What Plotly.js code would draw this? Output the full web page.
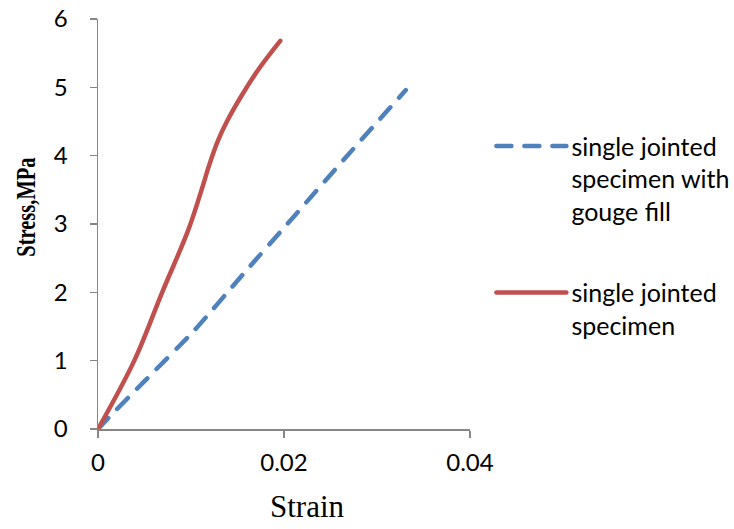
<!DOCTYPE html>
<html>
<head>
<meta charset="utf-8">
<script src="https://cdn.plot.ly/plotly-3.0.1.min.js"></script>
<style>
html,body{margin:0;padding:0;background:#fff;}
#chart{width:734px;height:529px;}
.scatterlayer path.js-line, .legend path.js-line {stroke-linecap: round;}
</style>
</head>
<body>
<div id="chart"></div>
<script>
// Data
const gougeStrain = [0, 0.0011, 0.0050, 0.0104, 0.0155, 0.0210, 0.0268, 0.0331];
const gougeStress = [0, 0.16, 0.70, 1.45, 2.25, 3.10, 4.00, 4.96];

const jointStrain = [0, 0.0039, 0.0069, 0.0097, 0.0110, 0.0120, 0.0129, 0.0139, 0.01545, 0.0174, 0.0196];
const jointStress = [0, 1.0, 2.0, 2.91, 3.44, 3.88, 4.22, 4.51, 4.88, 5.29, 5.68];

const seriesNames = ['single jointed<br>specimen with<br>gouge fill', 'single jointed<br>specimen'];
const xTicks = [0, 0.02, 0.04];
const xTickLabels = ['0', '0.02', '0.04'];
const yTicks = [0, 1, 2, 3, 4, 5, 6];

const tickFont = {family: 'Lato, "Open Sans", sans-serif', size: 24, color: '#000'};

const traces = [
  {
    x: gougeStrain, y: gougeStress, name: seriesNames[0], mode: 'lines', legendgroup: 'g1',
    line: {color: '#4F81BD', width: 4.5, dash: '15px,13px', shape: 'spline', smoothing: 0.6}
  },
  {
    x: jointStrain, y: jointStress, name: seriesNames[1], mode: 'lines', legendgroup: 'g2',
    line: {color: '#C0504D', width: 4.5, shape: 'spline', smoothing: 1.0}
  }
];

const axisCommon = {
  showgrid: false, zeroline: false, showline: true, linecolor: '#868686', linewidth: 1.5,
  ticks: 'outside', ticklen: 7, tickcolor: '#868686', tickwidth: 1.5, tickfont: tickFont,
  automargin: false
};

const layout = {
  width: 734, height: 529,
  margin: {l: 98, r: 264, t: 19, b: 100, pad: 0, autoexpand: false},
  paper_bgcolor: '#fff', plot_bgcolor: '#fff',
  showlegend: true,
  xaxis: Object.assign({}, axisCommon, {
    range: [0, 0.04], tickvals: xTicks, ticktext: xTickLabels, ticklabelstandoff: 5
  }),
  yaxis: Object.assign({}, axisCommon, {
    range: [0, 6], tickvals: yTicks, ticklabelstandoff: 17
  }),
  legend: {
    x: 1.0575, y: 0.746, xanchor: 'left', yanchor: 'top',
    font: {family: 'Lato, "Open Sans", sans-serif', size: 25, color: '#000'},
    valign: 'top', itemwidth: 70, tracegroupgap: 46, bgcolor: 'rgba(0,0,0,0)'
  },
  annotations: [
    {text: 'Strain', xref: 'paper', yref: 'paper', x: 0.5645, y: -0.19,
     xanchor: 'center', yanchor: 'middle', showarrow: false,
     font: {family: '"Liberation Serif", "Times New Roman", serif', size: 31, color: '#000'}},
    {text: '<b>Stress,MPa</b>', xref: 'paper', yref: 'paper', x: -0.196, y: 0.54,
     xanchor: 'center', yanchor: 'middle', showarrow: false, textangle: -90,
     font: {family: '"Liberation Serif", "Times New Roman", serif', size: 20.5, color: '#000'}}
  ]
};

Plotly.newPlot('chart', traces, layout, {displayModeBar: false, staticPlot: true}).then(function (gd) {
  // The reference's y title is drawn with taller (stretched) glyphs: widen it across the page
  try {
    const anns = gd.querySelectorAll('g.annotation');
    const g = anns[1];
    if (g) {
      const svg = g.ownerSVGElement;
      const sr = svg.getBoundingClientRect();
      const r = g.getBoundingClientRect();
      const cx = r.left - sr.left + r.width / 2, cy = r.top - sr.top + r.height / 2;
      const t = g.getAttribute('transform') || '';
      g.setAttribute('transform', 'translate(' + cx + ',' + cy + ') scale(1.3,1) translate(' + (-cx) + ',' + (-cy) + ') ' + t);
    }
  } catch (e) {}
});
</script>
</body>
</html>
